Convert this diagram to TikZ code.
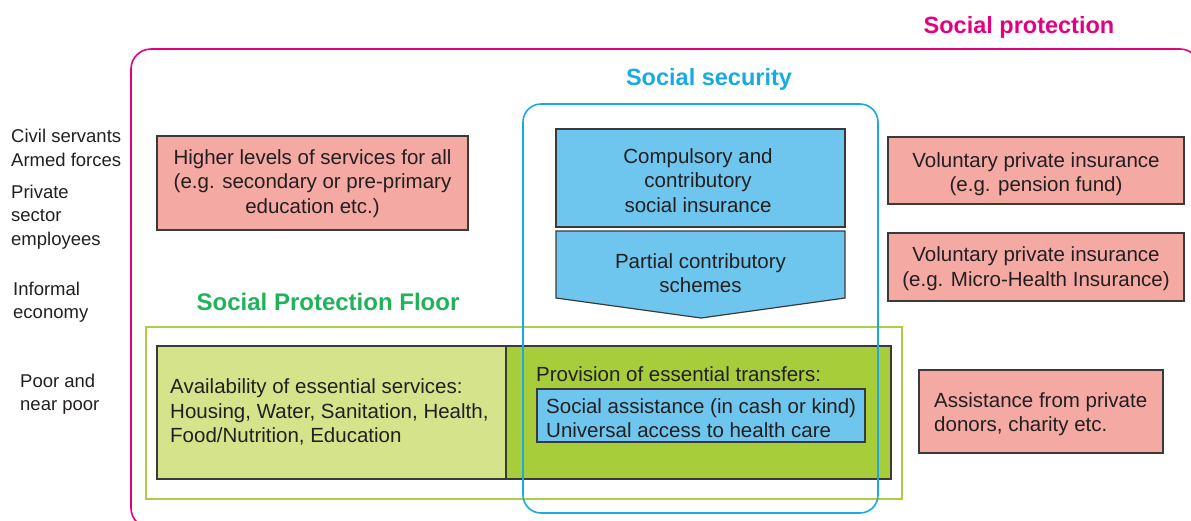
\documentclass[tikz,border=0pt]{standalone}
\usepackage{fontspec}
\setmainfont{Liberation Sans}
\begin{document}
\begin{tikzpicture}[x=1pt,y=-1pt,
  txt/.style={text=txtc,inner sep=0pt,font=\fontsize{20.5}{24.5}\selectfont},
  lbl/.style={text=txtc,inner sep=0pt,anchor=west,align=left,font=\fontsize{18.5}{23.3}\selectfont},
  boxp/.style={draw=boxline,line width=1.2pt,fill=pinkf,inner sep=0pt},
  boxb/.style={draw=boxline,line width=1.2pt,fill=bluef,inner sep=0pt},
  ttl/.style={font=\fontsize{23.5}{28}\selectfont\bfseries,inner sep=0pt}]
\definecolor{txtc}{HTML}{231F20}
\definecolor{boxline}{HTML}{3A3A3A}
\definecolor{pinkf}{HTML}{F5A9A3}
\definecolor{bluef}{HTML}{6EC6EE}
\definecolor{lgreen}{HTML}{D5E38B}
\definecolor{dgreen}{HTML}{A7CD3A}
\definecolor{magc}{HTML}{E5007D}
\definecolor{cyanc}{HTML}{1AAAE2}
\definecolor{spfline}{HTML}{A9CF46}
\definecolor{spftext}{HTML}{20B35A}
\useasboundingbox (0,0) rectangle (1191,520);
% outer social protection frame
\draw[magc,line width=1.6pt,rounded corners=20pt] (131,49) rectangle (1200,528);
\node[ttl,text=magc] (sptitle) at (1019,27) {Social protection};
\node[ttl,text=cyanc] (sstitle) at (709,79) {Social security};
\node[ttl,text=spftext,font=\fontsize{24}{28}\selectfont\bfseries] (spftitle) at (328,302) {Social Protection Floor};
% left labels
\node[lbl] (civil) at (11,148) {Civil servants\\Armed forces};
\node[lbl] (private) at (11,217) {Private\\sector\\employees};
\node[lbl] (informal) at (13,302.5) {Informal\\economy};
\node[lbl] (poor) at (20,394.5) {Poor and\\near poor};
% left pink box
\node[boxp,minimum width=311pt,minimum height=94pt] (higher) at (312.5,183) {};
\node[txt,align=center] (highertxt) at (312.5,183.5) {Higher levels of services for all\\(e.g. secondary or pre-primary\\education etc.)};
% social insurance
\node[boxb,minimum width=289pt,minimum height=98pt] (compulsory) at (700.5,178) {};
\node[txt,align=center] (comptxt) at (698,180.5) {Compulsory and\\contributory\\social insurance};
\draw[boxline,line width=1.2pt,fill=bluef] (556,231) -- (845,231) -- (845,298) -- (701,318) -- (556,298) -- cycle;
\node[txt,align=center] (partial) at (700.5,273) {Partial contributory\\schemes};
% right pink boxes
\node[boxp,minimum width=296pt,minimum height=67pt] (vol1) at (1036,170.5) {};
\node[txt,align=center] (vol1txt) at (1036,174) {Voluntary private insurance\\(e.g. pension fund)};
\node[boxp,minimum width=296pt,minimum height=68pt] (vol2) at (1036,267) {};
\node[txt,align=center] (vol2txt) at (1036,268.5) {Voluntary private insurance\\(e.g. Micro-Health Insurance)};
\node[boxp,minimum width=244pt,minimum height=83pt] (assist) at (1041,411.5) {};
\node[txt,align=left,anchor=west] (assisttxt) at (934,414) {Assistance from private\\donors, charity etc.};
% social protection floor
\draw[spfline,line width=1.6pt] (146,327) rectangle (902,499);
\node[draw=boxline,line width=1.2pt,fill=lgreen,inner sep=0pt,minimum width=349pt,minimum height=133pt] (avail) at (331.5,412.5) {};
\node[txt,align=left,anchor=west] (availtxt) at (170,412) {Availability of essential services:\\Housing, Water, Sanitation, Health,\\Food/Nutrition, Education};
\node[draw=boxline,line width=1.2pt,fill=dgreen,inner sep=0pt,minimum width=385pt,minimum height=133pt] (transfers) at (698.5,412.5) {};
\node[txt,anchor=west] (transtxt) at (536,374.5) {Provision of essential transfers:};
\node[boxb,minimum width=328pt,minimum height=53pt] (inner) at (701,415.5) {};
\node[txt,align=left,anchor=west] (innertxt) at (546,418) {Social assistance (in cash or kind)\\Universal access to health care};
% social security frame
\draw[cyanc,line width=1.6pt,rounded corners=18pt] (523,104) rectangle (878,513);
\end{tikzpicture}
\end{document}
